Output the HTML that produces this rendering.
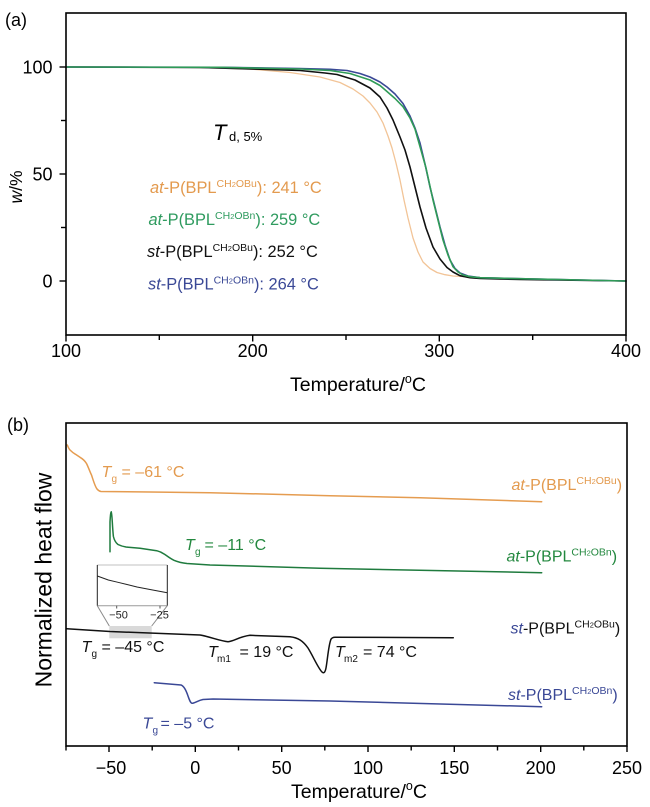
<!DOCTYPE html>
<html>
<head>
<meta charset="utf-8">
<style>
  html, body { margin: 0; padding: 0; background: #ffffff; }
  svg { display: block; }
  text { font-family: "Liberation Sans", "DejaVu Sans", sans-serif; }
</style>
</head>
<body>
<svg width="650" height="807" viewBox="0 0 650 807" xmlns="http://www.w3.org/2000/svg">
  <rect x="0" y="0" width="650" height="807" fill="#ffffff"/>

  <!-- ================= PANEL (a) ================= -->
  <text x="5" y="26" font-size="18" fill="#000">(a)</text>

  <!-- TGA curves -->
  <g fill="none" stroke-linejoin="round" stroke-linecap="round">
    <polyline stroke="#f2c497" stroke-width="1.3" points="66,67 190,67.3 250,69 290,72.5 320,77 340,82.5 353,89 363,96 370,103 377,112 383,123 388,136 392,148 396,163 400,180 404,200 408,218 413,238 418,252 423,262 430,268.5 437,272.5 445,274.7 453,276 480,277.5 520,278.7 626,281"/>
    <polyline stroke="#111111" stroke-width="1.6" points="66,67 200,67.5 260,69.2 300,70.5 325,73 337,74.5 355,80 370,88 380,97 387,108 393,120 400,137 405,150 410,167 415,187 420,207 426,228 433,247 440,259 447,267.5 453,272 460,275.7 470,277.7 480,278.5 520,279.5 626,281"/>
    <polyline stroke="#3a4896" stroke-width="1.6" points="66,67 220,67.3 300,68.5 330,69.3 347,70.5 360,73.5 370,77 380,82 387,87 395,94 403,103.5 410,116 415,128 420,143 425,164 430,187 435,207 440,227 445,245 450,260 455,268.5 460,273 468,276 480,277.7 520,278.7 626,281"/>
    <polyline stroke="#2f9b57" stroke-width="1.6" points="66,67 220,67.3 300,69 330,70.5 350,73.5 370,80 380,85.5 387,91.5 395,98.5 403,106.7 410,118 415,129 420,146.7 426,168 433,200 438,220 443,240 448,255 453,266.7 458,272 463,275 470,276.7 480,277.7 520,278.7 626,281"/>
  </g>

  <!-- axes box (a) -->
  <rect x="66" y="13" width="560" height="322" fill="none" stroke="#000" stroke-width="1.6"/>
  <g stroke="#000" stroke-width="1.4">
    <line x1="66" y1="335" x2="66" y2="341.5"/>
    <line x1="252.7" y1="335" x2="252.7" y2="341.5"/>
    <line x1="439.3" y1="335" x2="439.3" y2="341.5"/>
    <line x1="626" y1="335" x2="626" y2="341.5"/>
    <line x1="159.3" y1="335" x2="159.3" y2="340"/>
    <line x1="346" y1="335" x2="346" y2="340"/>
    <line x1="532.7" y1="335" x2="532.7" y2="340"/>
    <line x1="59.5" y1="67" x2="66" y2="67"/>
    <line x1="59.5" y1="174" x2="66" y2="174"/>
    <line x1="59.5" y1="281" x2="66" y2="281"/>
    <line x1="61" y1="120.5" x2="66" y2="120.5"/>
    <line x1="61" y1="227.5" x2="66" y2="227.5"/>
  </g>
  <g font-size="18" fill="#000" text-anchor="middle">
    <text x="66" y="357">100</text>
    <text x="252.7" y="357">200</text>
    <text x="439.3" y="357">300</text>
    <text x="626" y="357">400</text>
  </g>
  <g font-size="18" fill="#000" text-anchor="end">
    <text x="52.5" y="73.5">100</text>
    <text x="52.5" y="180.5">50</text>
    <text x="52.5" y="287.5">0</text>
  </g>
  <text transform="translate(22,187) rotate(-90)" text-anchor="middle" font-size="17.5" fill="#000"><tspan font-style="italic">w</tspan>/%</text>
  <text x="290" y="391" font-size="19.5" fill="#000">Temperature/<tspan font-size="12.5" dy="-8">o</tspan><tspan dy="8">C</tspan></text>

  <!-- T d,5% label -->
  <text x="213" y="140" font-size="22" font-style="italic" fill="#000">T</text>
  <text x="229" y="141" font-size="13" fill="#000">d, 5%</text>

  <!-- legend (a) -->
  <text x="150" y="193" font-size="16.4" fill="#e39a4e"><tspan font-style="italic">at</tspan>-P(BPL<tspan font-size="10.5" dy="-6">CH<tspan font-size="7.5">2</tspan>OBu</tspan><tspan dy="6">): 241 °C</tspan></text>
  <text x="148.5" y="225" font-size="16.4" fill="#2f9b5f"><tspan font-style="italic">at</tspan>-P(BPL<tspan font-size="10.5" dy="-6">CH<tspan font-size="7.5">2</tspan>OBn</tspan><tspan dy="6">): 259 °C</tspan></text>
  <text x="147" y="257" font-size="16.4" fill="#111"><tspan font-style="italic">st</tspan>-P(BPL<tspan font-size="10.5" dy="-6">CH<tspan font-size="7.5">2</tspan>OBu</tspan><tspan dy="6">): 252 °C</tspan></text>
  <text x="148" y="289.5" font-size="16.4" fill="#3a4896"><tspan font-style="italic">st</tspan>-P(BPL<tspan font-size="10.5" dy="-6">CH<tspan font-size="7.5">2</tspan>OBn</tspan><tspan dy="6">): 264 °C</tspan></text>

  <!-- ================= PANEL (b) ================= -->
  <text x="7" y="431" font-size="18" fill="#000">(b)</text>

  <!-- inset -->
  <rect x="109.3" y="626" width="42.4" height="12.3" fill="#d9d9d9"/>
  <g fill="none" stroke-width="1">
    <line x1="97.3" y1="565" x2="167.3" y2="565" stroke="#c0c0c0"/>
    <line x1="97.3" y1="605.7" x2="167.3" y2="605.7" stroke="#9a9a9a"/>
    <line x1="97.3" y1="565" x2="97.3" y2="605.7" stroke="#222"/>
    <line x1="167.3" y1="565" x2="167.3" y2="605.7" stroke="#222"/>
    <line x1="116.7" y1="605.7" x2="116.7" y2="608.5" stroke="#555"/>
    <line x1="160" y1="605.7" x2="160" y2="608.5" stroke="#555"/>
    <line x1="97.3" y1="605.7" x2="109.3" y2="626" stroke="#8a8a8a"/>
    <line x1="167.3" y1="605.7" x2="151.7" y2="626" stroke="#8a8a8a"/>
    <polyline stroke="#222" stroke-width="1" points="97.3,576 108.3,580 118,582.3 127,584.5 137,587 150,589.5 167.3,592.7"/>
  </g>
  <g font-size="11" fill="#222" text-anchor="middle">
    <text x="118.5" y="618.5">−50</text>
    <text x="159.5" y="618.5">−25</text>
  </g>

  <!-- DSC curves -->
  <g fill="none" stroke-linejoin="round" stroke-linecap="round" stroke-width="1.5">
    <path stroke="#e59c50" d="M67.3,445 C68.5,448 69,449 70,450 C72,452 74,453.5 75.5,454.3 L80,457.3 C83,459 85,461 86.5,463.5 C88.5,467.5 90,472 91.5,475 C93.5,481 95,486.5 97,489 C98.5,490.8 99.5,491.3 101,491.5 L150,492 L210,492.7 C260,494 300,495 330,495.7 L420,497.8 L541.7,501.7"/>
    <path stroke="#1f7b3e" d="M110,551.7 L110,522 C110.4,515 110.8,511.7 111.3,511.7 C112,512 112.4,528 113.4,536.5 C114.5,541 116,543 118,544.5 C121,546 123,546.5 126,547 L140,548.3 L156.7,550.7 C160,551.5 162,552.5 164.5,554.2 C167.5,556.3 170.5,558.7 174,560.3 C178,562 182,563 187,563.5 L210,565 C250,566.5 290,567.5 320,568.2 L541.7,572.7"/>
    <path stroke="#111111" d="M66.7,628.7 L110,631.5 L200,635 C210,636.7 220,641 228,641.7 C234,641.2 239,636.8 250,635.3 L290,636.7 C298,637.5 303,641 308,648 C313,656 318,668 322,672 C323.5,673.5 325,673 326,668 C327.5,660 328.5,645 331,639.2 C332,637.6 333,637.2 335,637.2 L453.3,637.7"/>
    <path stroke="#3a4896" d="M154.3,682.7 L181,685 C184,686 186,690 188,696 C189.5,700.3 190.5,703 192,703.3 C195,703 198,700.5 203,699.5 L213,699 C260,700 300,700.7 330,701 L541.7,706.7"/>
  </g>

  <!-- axes box (b) -->
  <rect x="66" y="423" width="561" height="323" fill="none" stroke="#000" stroke-width="1.6"/>
  <g stroke="#000" stroke-width="1.4">
    <line x1="109" y1="746" x2="109" y2="752"/>
    <line x1="195.3" y1="746" x2="195.3" y2="752"/>
    <line x1="281.7" y1="746" x2="281.7" y2="752"/>
    <line x1="368" y1="746" x2="368" y2="752"/>
    <line x1="454.3" y1="746" x2="454.3" y2="752"/>
    <line x1="540.7" y1="746" x2="540.7" y2="752"/>
    <line x1="627" y1="746" x2="627" y2="752"/>
    <line x1="66" y1="746" x2="66" y2="750.5"/>
    <line x1="152.2" y1="746" x2="152.2" y2="750.5"/>
    <line x1="238.5" y1="746" x2="238.5" y2="750.5"/>
    <line x1="324.8" y1="746" x2="324.8" y2="750.5"/>
    <line x1="411.2" y1="746" x2="411.2" y2="750.5"/>
    <line x1="497.5" y1="746" x2="497.5" y2="750.5"/>
    <line x1="583.8" y1="746" x2="583.8" y2="750.5"/>
  </g>
  <g font-size="18" fill="#000" text-anchor="middle">
    <text x="111" y="774">−50</text>
    <text x="195.3" y="774">0</text>
    <text x="281.7" y="774">50</text>
    <text x="368" y="774">100</text>
    <text x="454.3" y="774">150</text>
    <text x="540.7" y="774">200</text>
    <text x="627" y="774">250</text>
  </g>
  <text x="291" y="798" font-size="19.5" fill="#000">Temperature/<tspan font-size="12.5" dy="-8">o</tspan><tspan dy="8">C</tspan></text>
  <text transform="translate(51.5,580) rotate(-90)" text-anchor="middle" font-size="23" fill="#000">Normalized heat flow</text>

  <!-- Tg / Tm labels -->
  <g font-size="16">
    <g fill="#e39a4e">
      <text x="101.5" y="477" font-style="italic">T</text>
      <text x="111.5" y="482" font-size="10">g</text>
      <text x="121.5" y="477">= –61 °C</text>
    </g>
    <g fill="#23883f">
      <text x="185" y="550" font-style="italic">T</text>
      <text x="195" y="555" font-size="10">g</text>
      <text x="204.5" y="550">= –11 °C</text>
    </g>
    <g fill="#111">
      <text x="81.5" y="652" font-style="italic">T</text>
      <text x="91.5" y="657" font-size="10">g</text>
      <text x="101.5" y="652">= –45 °C</text>
    </g>
    <g fill="#3a4896">
      <text x="142.5" y="728.5" font-style="italic">T</text>
      <text x="152.5" y="733.5" font-size="10">g</text>
      <text x="160.5" y="728.5">= –5 °C</text>
    </g>
    <g fill="#111">
      <text x="208" y="657" font-style="italic">T</text>
      <text x="217" y="662" font-size="10">m1</text>
      <text x="239.5" y="657">= 19 °C</text>
      <text x="335" y="657" font-style="italic">T</text>
      <text x="344" y="662" font-size="10">m2</text>
      <text x="363" y="657">= 74 °C</text>
    </g>
  </g>

  <!-- legend (b) -->
  <text x="511.5" y="490" font-size="16" fill="#e39a4e"><tspan font-style="italic">at</tspan>-P(BPL<tspan font-size="10.5" dy="-6">CH<tspan font-size="7.5">2</tspan>OBu</tspan><tspan dy="6">)</tspan></text>
  <text x="506.5" y="561.7" font-size="16" fill="#23883f"><tspan font-style="italic">at</tspan>-P(BPL<tspan font-size="10.5" dy="-6">CH<tspan font-size="7.5">2</tspan>OBn</tspan><tspan dy="6">)</tspan></text>
  <text x="510.5" y="633.3" font-size="16" fill="#111"><tspan font-style="italic" fill="#3a4896">st</tspan>-P(BPL<tspan font-size="10.5" dy="-6">CH<tspan font-size="7.5">2</tspan>OBu</tspan><tspan dy="6">)</tspan></text>
  <text x="508" y="700" font-size="16" fill="#3a4896"><tspan font-style="italic">st</tspan>-P(BPL<tspan font-size="10.5" dy="-6">CH<tspan font-size="7.5">2</tspan>OBn</tspan><tspan dy="6">)</tspan></text>
</svg>
</body>
</html>
